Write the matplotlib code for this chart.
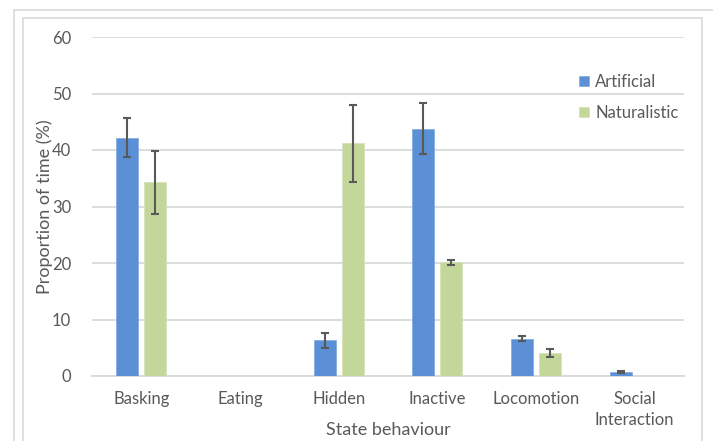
import numpy as np
import matplotlib
matplotlib.use('Agg')
import matplotlib.pyplot as plt
from matplotlib.patches import Rectangle

categories = ['Basking', 'Eating', 'Hidden', 'Inactive', 'Locomotion', 'Social\nInteraction']
artificial = [42.2, 0, 6.3, 43.8, 6.6, 0.7]
artificial_err = [3.45, 0, 1.3, 4.5, 0.4, 0.15]
naturalistic = [34.3, 0, 41.2, 20.1, 4.1, 0]
naturalistic_err = [5.6, 0, 6.8, 0.5, 0.7, 0]

plt.rcParams['font.family'] = ['Lato', 'DejaVu Sans']
txt = '#595959'
grid = '#D9D9D9'

fig = plt.figure(figsize=(7.13, 4.41), dpi=100)
W, H = 713, 441

# frames round the chart
fig.patches.append(Rectangle((14 / W, -0.1), 1.0, 1 - 10 / H + 0.1, transform=fig.transFigure,
                             fill=False, edgecolor='#D9D9D9', lw=1.2))
fig.patches.append(Rectangle((23 / W, -0.1), (702 - 23) / W, 1 - 18 / H + 0.1, transform=fig.transFigure,
                             fill=False, edgecolor='#D9D9D9', lw=1.2))

ax = fig.add_axes([92 / W, (H - 376) / H, (684 - 92) / W, (376 - 37) / H])

x = np.arange(len(categories))
w = 0.223
off = 0.143
ekw = dict(ecolor='#595959', elinewidth=1.5, capsize=3, capthick=1.5)
ax.bar(x - off, artificial, w, color='#5B8FD6', edgecolor='#7FA8E0', lw=0.5,
       yerr=[a if a else np.nan for a in artificial_err], error_kw=ekw, label='Artificial', zorder=3)
ax.bar(x + off, naturalistic, w, color='#C4D79B', edgecolor='#D3E1B5', lw=0.5,
       yerr=[a if a else np.nan for a in naturalistic_err], error_kw=ekw, label='Naturalistic', zorder=3)

ax.set_xlim(-0.5, len(categories) - 0.5)
ax.set_ylim(0, 60)
ax.set_yticks(range(0, 61, 10))
ax.yaxis.grid(True, color=grid, lw=1.3)
ax.set_axisbelow(True)
for s in ['top', 'right', 'left']:
    ax.spines[s].set_visible(False)
ax.spines['bottom'].set_color(grid)
ax.spines['bottom'].set_linewidth(1.3)
ax.tick_params(length=0, colors=txt, labelsize=12)
ax.tick_params(axis='y', pad=15)
ax.tick_params(axis='x', pad=11)
ax.set_xticks(x)
ax.set_xticklabels(categories, linespacing=1.4)

ax.set_xlabel('State behaviour', color=txt, fontsize=13)
ax.set_ylabel('Proportion of time (%)', color=txt, fontsize=13)
ax.xaxis.set_label_coords(0.5, -(430 - 376) / (376 - 37), transform=ax.transAxes)
ax.yaxis.set_label_coords(-(92 - 45) / (684 - 92), 0.5, transform=ax.transAxes)
ax.xaxis.label.set_va('center')
ax.yaxis.label.set_va('center')

leg = ax.legend(loc='upper left', frameon=False, fontsize=12, handlelength=0.6, handleheight=0.6,
                handletextpad=0.4, labelspacing=0.9, borderaxespad=0)
for t in leg.get_texts():
    t.set_color(txt)
leg.set_bbox_to_anchor((572 / W, 1 - 67 / H), transform=fig.transFigure)

fig.savefig('out.png', dpi=100)
